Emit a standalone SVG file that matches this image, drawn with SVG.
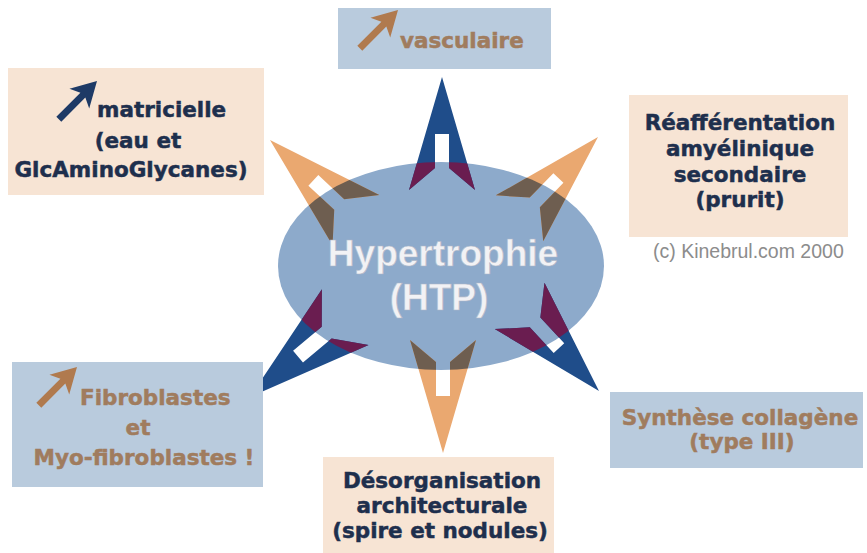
<svg xmlns="http://www.w3.org/2000/svg" width="867" height="553" viewBox="0 0 867 553">
<style>
.peach{fill:#f7e4d4}
.blue{fill:#b9cbdd}
.t{font-family:"DejaVu Sans",sans-serif;font-weight:bold;font-size:21.5px;stroke-width:0.5}
.navy{fill:#1e2f4d;stroke:#1e2f4d}
.brown{fill:#a07c5e;stroke:#a07c5e}
.c{text-anchor:middle}
.ba{fill:#1f4d8a}
.oa{fill:#eaa870}
.bo{fill:#6a1d50}
.oo{fill:#6e5e50}
.center{font-family:"Liberation Sans",Arial,sans-serif;font-weight:bold;font-size:37px;fill:#f2f2f5;text-anchor:middle;stroke:#b0b8c8;stroke-width:0.6}
</style>
<defs>
<path id="arr" d="M0,0 L-33,113 L-7,91 L-7,57 L7,57 L7,91 L33,113 Z"/>
<path id="ico" d="M0,0 L-14,25 L-3.5,20 L-3.5,54 L3.5,54 L3.5,20 L14,25 Z"/>
<clipPath id="ell"><ellipse cx="441" cy="266" rx="163" ry="104"/></clipPath>
</defs>
<rect width="867" height="553" fill="#ffffff"/>

<g id="hub">
<ellipse cx="441" cy="266" rx="163" ry="104" fill="#8daacb"/>
</g>

<g id="connectors">
<use href="#arr" class="ba" transform="translate(442,77)"/>
<use href="#arr" class="oa" transform="translate(270,140) rotate(-47) scale(1.04)"/>
<use href="#arr" class="oa" transform="translate(598,137) rotate(44)"/>
<use href="#arr" class="ba" transform="translate(250,397) rotate(-130) scale(1.1)"/>
<use href="#arr" class="ba" transform="translate(599,391) rotate(137) scale(1.03)"/>
<use href="#arr" class="oa" transform="translate(443,453) rotate(180)"/>
<g clip-path="url(#ell)">
<use href="#arr" class="bo" transform="translate(442,77)"/>
<use href="#arr" class="oo" transform="translate(270,140) rotate(-47) scale(1.04)"/>
<use href="#arr" class="oo" transform="translate(598,137) rotate(44)"/>
<use href="#arr" class="bo" transform="translate(250,397) rotate(-130) scale(1.1)"/>
<use href="#arr" class="bo" transform="translate(599,391) rotate(137) scale(1.03)"/>
<use href="#arr" class="oo" transform="translate(443,453) rotate(180)"/>
</g>
</g>

<g id="hub-label">
<text class="center" x="443" y="266">Hypertrophie</text>
<text class="center" x="439" y="310">(HTP)</text>
</g>

<g id="vasculaire">
<rect class="blue" x="338" y="8" width="213" height="61"/>
<use href="#ico" fill="#b07a4e" transform="translate(398,10) rotate(45)"/>
<text class="t brown" x="400" y="48">vasculaire</text>
</g>

<g id="matricielle">
<rect class="peach" x="8" y="68" width="256" height="127"/>
<use href="#ico" fill="#1e3a66" transform="translate(97,81) rotate(45)"/>
<text class="t navy" x="97" y="117">matricielle</text>
<text class="t navy c" x="138" y="148">(eau et</text>
<text class="t navy c" x="131" y="177">GlcAminoGlycanes)</text>
</g>

<g id="reafferentation">
<rect class="peach" x="629" y="95" width="219" height="142"/>
<text class="t navy c" x="740" y="130">Réafférentation</text>
<text class="t navy c" x="740" y="156">amyélinique</text>
<text class="t navy c" x="740" y="182">secondaire</text>
<text class="t navy c" x="740" y="207">(prurit)</text>
<text x="653" y="258" font-family="Liberation Sans, Arial, sans-serif" font-size="19.5" fill="#8c8c8c">(c) Kinebrul.com 2000</text>
</g>

<g id="fibroblastes">
<rect class="blue" x="12" y="362" width="251" height="125"/>
<use href="#ico" fill="#b07a4e" transform="translate(77,367) rotate(45)"/>
<text class="t brown" x="80" y="405">Fibroblastes</text>
<text class="t brown c" x="138" y="435">et</text>
<text class="t brown c" x="144" y="465">Myo-fibroblastes !</text>
</g>

<g id="synthese">
<rect class="blue" x="610" y="392" width="253" height="76"/>
<text class="t brown c" x="740" y="425">Synthèse collagène</text>
<text class="t brown c" x="742" y="449">(type III)</text>
</g>

<g id="desorganisation">
<rect class="peach" x="323" y="457" width="231" height="96"/>
<text class="t navy c" x="442" y="488">Désorganisation</text>
<text class="t navy c" x="442" y="513">architecturale</text>
<text class="t navy c" x="440" y="538">(spire et nodules)</text>
</g>
</svg>
